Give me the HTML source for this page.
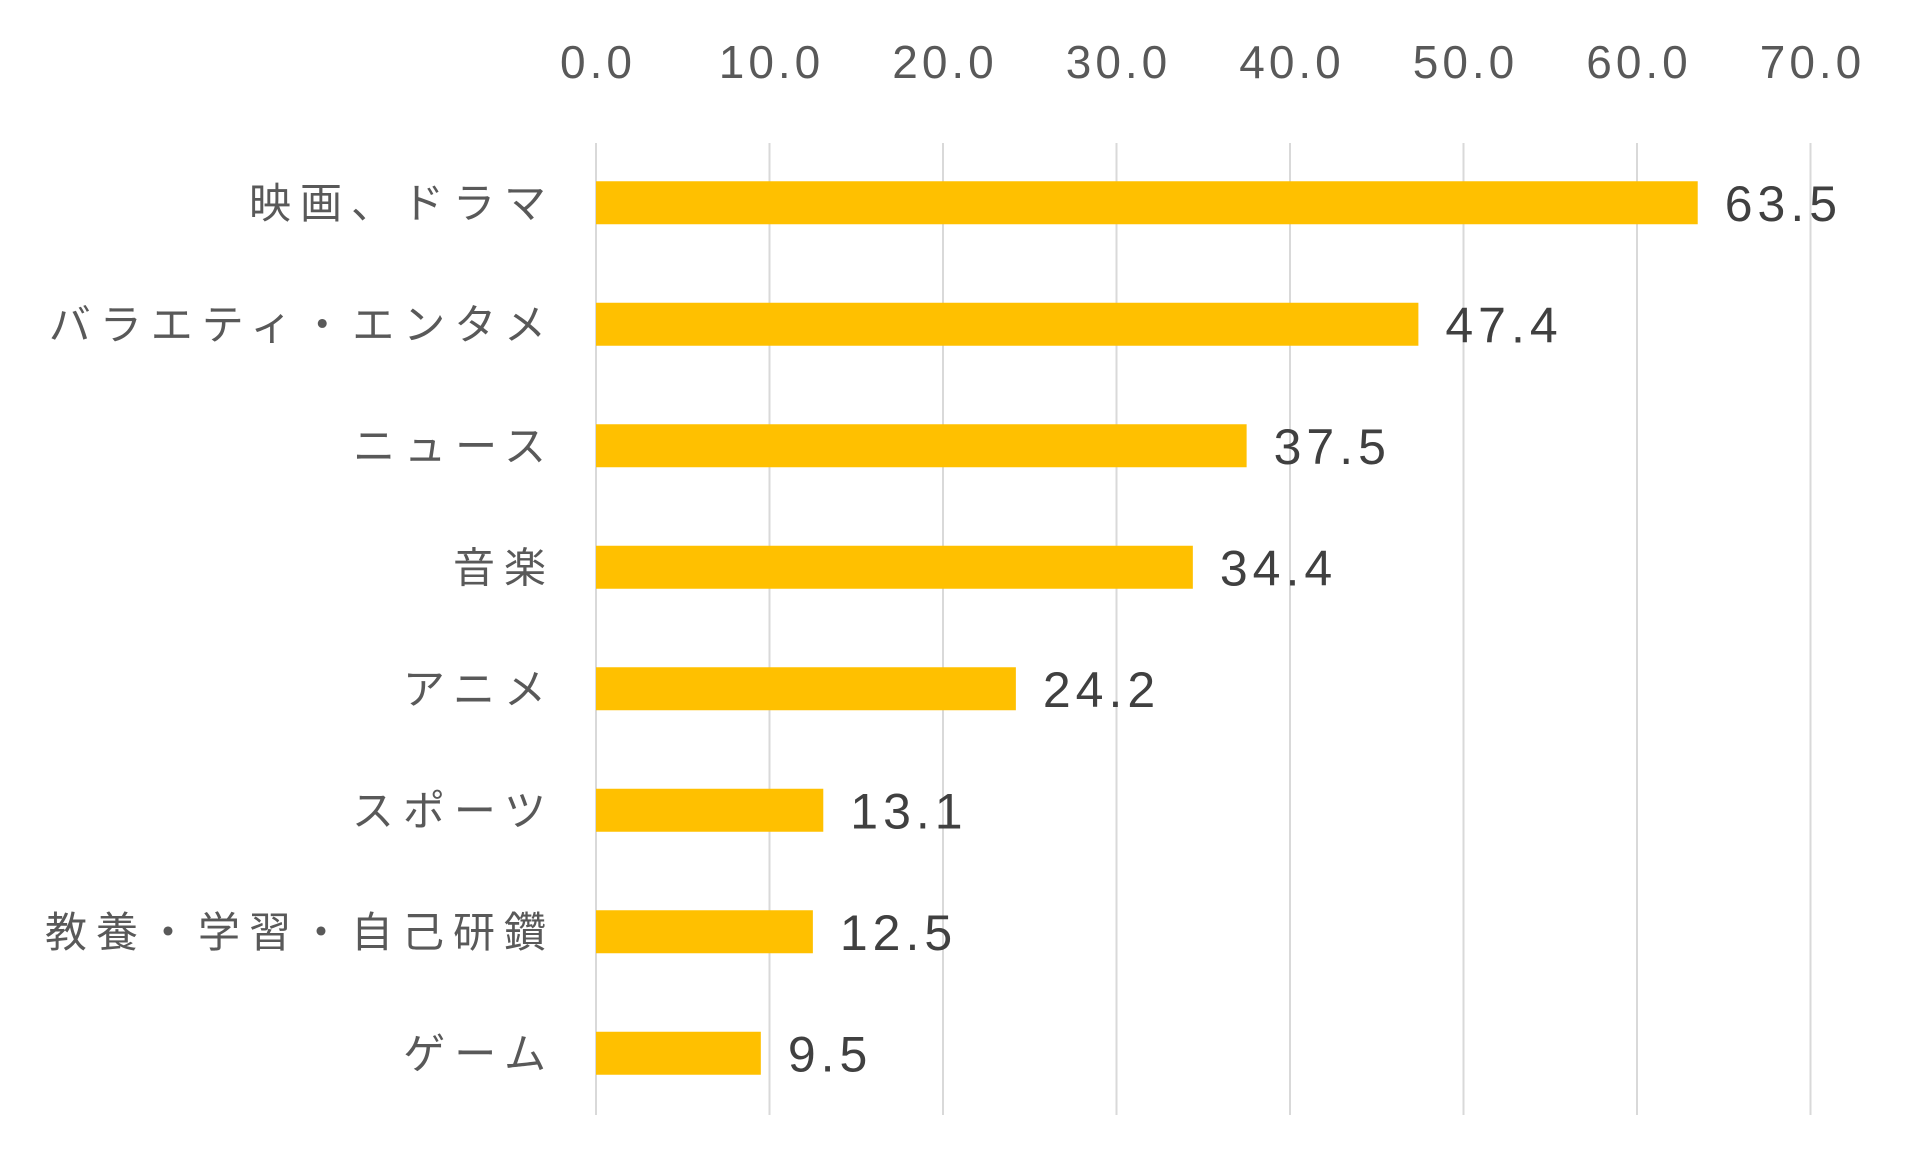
<!DOCTYPE html>
<html><head><meta charset="utf-8">
<style>
html,body{margin:0;padding:0;background:#fff;}
svg{display:block;}
text{font-family:"Liberation Sans","Noto Sans CJK JP",sans-serif;}
</style></head>
<body>
<svg id="chart" width="1913" height="1166" viewBox="0 0 1913 1166" xmlns="http://www.w3.org/2000/svg">
<g id="grid"></g>
<g id="ticks"></g>
<g id="bars"></g>
<g id="cats"></g>
<g id="vals"></g>
</svg>
<script>
const categories = ["映画、ドラマ","バラエティ・エンタメ","ニュース","音楽","アニメ","スポーツ","教養・学習・自己研鑽","ゲーム"];
const values = [63.5,47.4,37.5,34.4,24.2,13.1,12.5,9.5];
const valueLabels = ["63.5","47.4","37.5","34.4","24.2","13.1","12.5","9.5"];
const tickValues = [0,10,20,30,40,50,60,70];
const tickLabels = ["0.0","10.0","20.0","30.0","40.0","50.0","60.0","70.0"];

const NS="http://www.w3.org/2000/svg";
const x0=596, pxPerUnit=17.35, plotTop=143, plotBottom=1115;
const band=(plotBottom-plotTop)/categories.length, barH=43;
const xScale=v=>x0+v*pxPerUnit;
const yBand=i=>plotTop+i*band;
function mk(tag,attrs,parent){const e=document.createElementNS(NS,tag);for(const k in attrs)e.setAttribute(k,attrs[k]);parent.appendChild(e);return e;}
const grid=document.getElementById('grid'),ticks=document.getElementById('ticks'),bars=document.getElementById('bars'),cats=document.getElementById('cats'),vals=document.getElementById('vals');
tickValues.forEach((t,i)=>{
  const l=mk('line',{x1:xScale(t),x2:xScale(t),y1:plotTop,y2:plotBottom,stroke:'#d9d9d9','stroke-width':2},grid);
  
  
  const tx=mk('text',{x:xScale(t)+2,y:78,'text-anchor':'middle','font-size':46,fill:'#595959','letter-spacing':4},ticks);
  tx.textContent=tickLabels[i];
  
  
});
categories.forEach((c,i)=>{
  const yb=yBand(i), yc=yb+band/2-1;
  const r=mk('rect',{x:x0,y:yc-barH/2,width:xScale(values[i])-x0,height:barH,fill:'#FFC000'},bars);
  
  
  const ct=mk('text',{x:555,y:yc+15,'text-anchor':'end','font-size':42,fill:'#595959','letter-spacing':9},cats);
  ct.textContent=c;
  
  
  const vt=mk('text',{x:xScale(values[i])+27,y:yc+18,'font-size':50,fill:'#404040','letter-spacing':5},vals);
  vt.textContent=valueLabels[i];
  
  
});
</script>
</body></html>
